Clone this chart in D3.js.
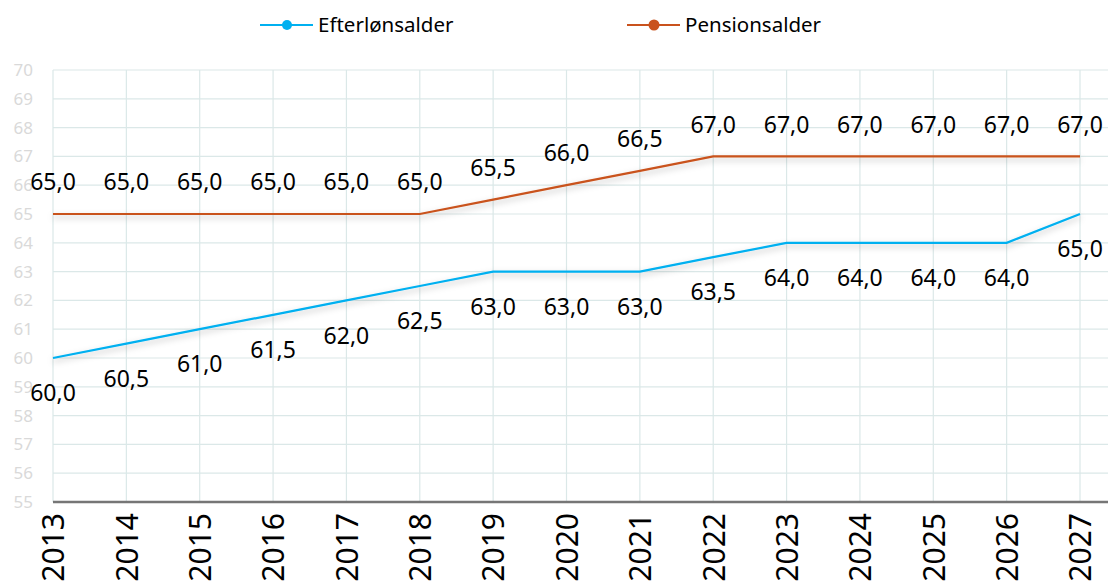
<!DOCTYPE html>
<html>
<head>
<meta charset="utf-8">
<script src="https://cdn.jsdelivr.net/npm/d3@7"></script>
<style>
  body { margin: 0; background: #fff; }
  svg { font-family: 'Noto Sans', sans-serif; }
</style>
</head>
<body>
<div class="canvas"></div>
<script>
// data
const years = ['2013', '2014', '2015', '2016', '2017', '2018', '2019', '2020',
  '2021', '2022', '2023', '2024', '2025', '2026', '2027']
const efterloen = [60, 60.5, 61, 61.5, 62, 62.5, 63, 63, 63, 63.5, 64, 64, 64, 64, 65]
const pension = [65, 65, 65, 65, 65, 65, 65.5, 66, 66.5, 67, 67, 67, 67, 67, 67]
const yTicks = [55, 56, 57, 58, 59, 60, 61, 62, 63, 64, 65, 66, 67, 68, 69, 70]

const series = [
  { name: 'Efterlønsalder', values: efterloen, color: '#00b0f0', labelDy: 35, r: 5 },
  { name: 'Pensionsalder', values: pension, color: '#c9521d', labelDy: -32, r: 5.5 },
]

// dimensions
const dimensions = {
  margin: { top: 70, right: 30, bottom: 85, left: 53 },
  chartWidth: 1110,
  chartHeight: 587,
}
const graphWidth = 1080 - dimensions.margin.left
const graphHeight = dimensions.chartHeight - dimensions.margin.top - dimensions.margin.bottom

const svg = d3.select('.canvas')
  .append('svg')
  .attr('width', dimensions.chartWidth)
  .attr('height', dimensions.chartHeight)

// shadow filter
const defs = svg.append('defs')
const filter = defs.append('filter').attr('id', 'shadow')
  .attr('x', '-5%').attr('y', '-50%').attr('width', '110%').attr('height', '200%')
filter.append('feDropShadow')
  .attr('dx', 0).attr('dy', 3).attr('stdDeviation', 3)
  .attr('flood-color', '#000').attr('flood-opacity', 0.25)

const graph = svg.append('g')
  .attr('transform', `translate(${dimensions.margin.left}, ${dimensions.margin.top})`)

// scales
const x = d3.scalePoint().domain(years).range([0, graphWidth])
const y = d3.scaleLinear().domain([55, 70]).range([graphHeight, 0])

// grid
const gridColor = '#dbe8e8'
graph.append('g')
  .selectAll('line')
  .data(yTicks)
  .join('line')
  .attr('x1', 0)
  .attr('x2', graphWidth + 28)
  .attr('y1', (d) => y(d))
  .attr('y2', (d) => y(d))
  .attr('stroke', gridColor)
  .attr('stroke-width', 1.2)

graph.append('g')
  .selectAll('line')
  .data(years)
  .join('line')
  .attr('x1', (d) => x(d))
  .attr('x2', (d) => x(d))
  .attr('y1', 0)
  .attr('y2', graphHeight)
  .attr('stroke', gridColor)
  .attr('stroke-width', 1.2)

// y axis labels
const yAxis = d3.axisLeft(y).tickValues(yTicks).tickSize(0).tickPadding(20)
const yAxisGroup = graph.append('g').call(yAxis)
yAxisGroup.select('.domain').remove()
yAxisGroup.selectAll('text')
  .attr('fill', '#d9d9d9')
  .attr('font-size', '17px')
  .attr('font-family', "'Noto Sans', sans-serif")

// baseline
graph.append('line')
  .attr('x1', 0)
  .attr('x2', graphWidth + 28)
  .attr('y1', graphHeight)
  .attr('y2', graphHeight)
  .attr('stroke', '#767676')
  .attr('stroke-width', 2.5)

// x axis labels
const xAxis = d3.axisBottom(x).tickSize(0).tickPadding(0)
const xAxisGroup = graph.append('g')
  .attr('transform', `translate(0, ${graphHeight})`)
  .call(xAxis)
xAxisGroup.select('.domain').remove()
xAxisGroup.selectAll('text')
  .attr('transform', 'rotate(-90)')
  .attr('text-anchor', 'end')
  .attr('x', -11)
  .attr('y', 0)
  .attr('dy', '0.36em')
  .attr('fill', '#000')
  .attr('font-size', '30px')
  .attr('font-family', "'Noto Sans', sans-serif")

// lines
const line = d3.line()
  .x((d, i) => x(years[i]))
  .y((d) => y(d))

series.forEach((s) => {
  graph.append('path')
    .datum(s.values)
    .attr('fill', 'none')
    .attr('stroke', s.color)
    .attr('stroke-width', 2.2)
    .attr('filter', 'url(#shadow)')
    .attr('d', line)

  graph.append('g')
    .selectAll('text')
    .data(s.values)
    .join('text')
    .attr('x', (d, i) => x(years[i]))
    .attr('y', (d) => y(d) + s.labelDy)
    .attr('dy', '0.36em')
    .attr('text-anchor', 'middle')
    .attr('font-size', '23px')
    .attr('fill', '#000')
    .text((d) => d.toFixed(1).replace('.', ','))
})

// legend
const legendX = [260, 627]
const legend = svg.append('g')
series.forEach((s, i) => {
  const g = legend.append('g').attr('transform', `translate(${legendX[i]}, 25)`)
  g.append('line')
    .attr('x1', 0).attr('x2', 53)
    .attr('stroke', s.color).attr('stroke-width', 2.2)
  g.append('circle')
    .attr('cx', 27).attr('r', s.r)
    .attr('fill', s.color)
  g.append('text')
    .attr('x', 58)
    .attr('dy', '0.36em')
    .attr('font-size', '20.5px')
    .attr('fill', '#000')
    .text(s.name)
})
</script>
</body>
</html>
